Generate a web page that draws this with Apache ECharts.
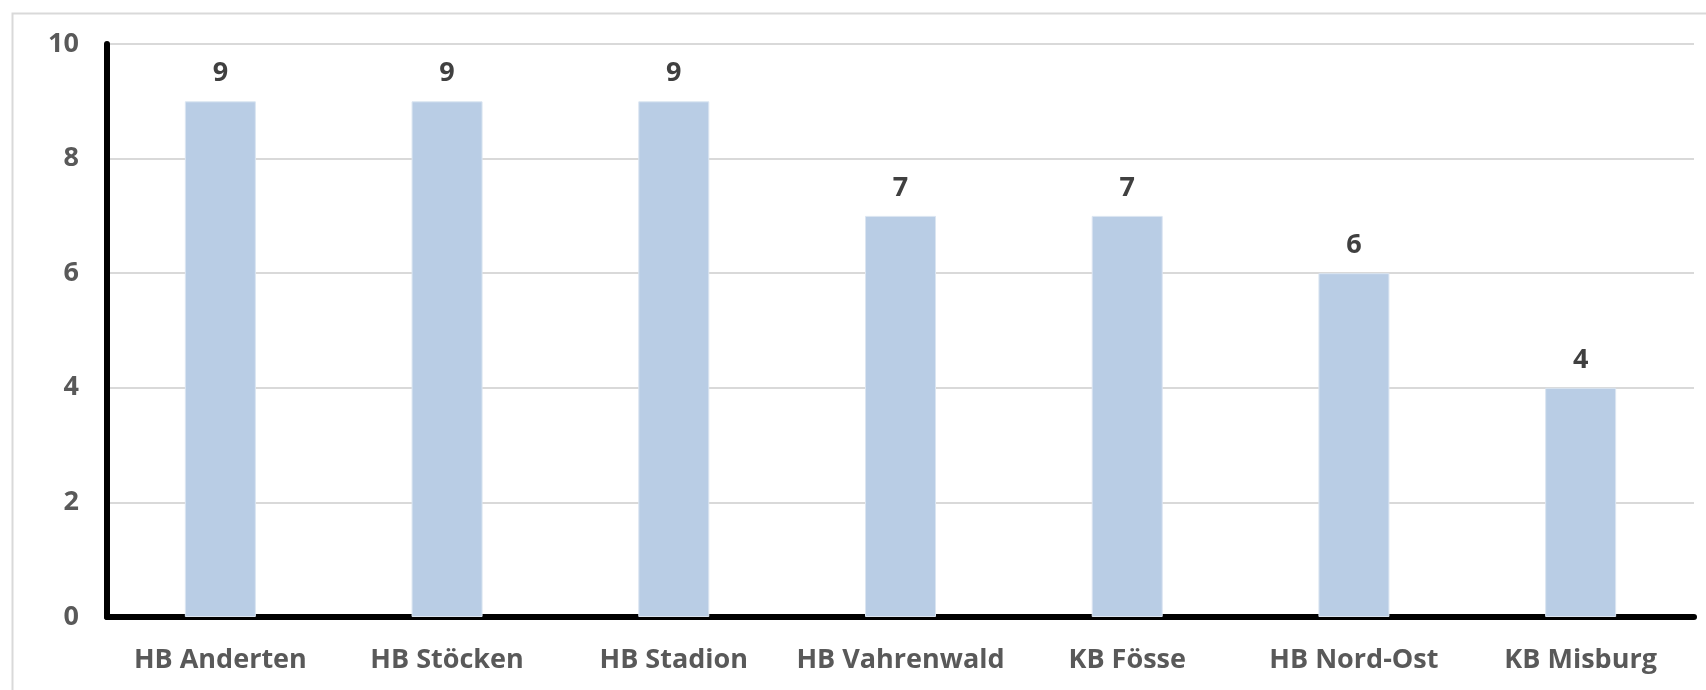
<!DOCTYPE html>
<html>
<head>
<meta charset="utf-8">
<script src="https://cdn.jsdelivr.net/npm/echarts@6/dist/echarts.min.js"></script>
<style>
  html, body { margin: 0; padding: 0; background: #ffffff; }
  #chart { width: 1706px; height: 690px; }
</style>
</head>
<body>
<div id="chart"></div>
<script>
// Stationen und Anzahl
const categories = ['HB Anderten', 'HB Stöcken', 'HB Stadion', 'HB Vahrenwald', 'KB Fösse', 'HB Nord-Ost', 'KB Misburg'];
const values = [9, 9, 9, 7, 7, 6, 4];
const yTicks = [0, 2, 4, 6, 8, 10];

const FONT = '"Open Sans", "Noto Sans", sans-serif';

const chart = echarts.init(document.getElementById('chart'), null, { renderer: 'canvas' });

chart.setOption({
  backgroundColor: '#ffffff',
  animation: false,
  graphic: [{
    // outer chart frame
    type: 'rect',
    left: 10, top: 11,
    shape: { width: 1720, height: 700 },
    style: { fill: 'none', stroke: '#d9d9d9', lineWidth: 2 },
    silent: true
  }],
  grid: { left: 107, right: 12, top: 44, bottom: 73, containLabel: false },
  xAxis: {
    type: 'category',
    data: categories,
    axisLine: { show: true, lineStyle: { color: '#000000', width: 6 } },
    axisTick: { show: false },
    axisLabel: {
      color: '#595959', fontFamily: FONT, fontWeight: 'bold', fontSize: 27,
      margin: 30, interval: 0
    },
    splitLine: { show: false }
  },
  yAxis: {
    type: 'value',
    min: yTicks[0],
    max: yTicks[yTicks.length - 1],
    interval: 2,
    axisLine: { show: true, lineStyle: { color: '#000000', width: 6 } },
    axisTick: { show: false },
    axisLabel: {
      color: '#595959', fontFamily: FONT, fontWeight: 'bold', fontSize: 27,
      margin: 28
    },
    splitLine: { show: true, lineStyle: { color: '#d9d9d9', width: 2 } }
  },
  series: [{
    type: 'bar',
    data: values,
    barWidth: 71,
    itemStyle: { color: '#b9cde5', borderColor: '#dbe5f1', borderWidth: 1 },
    label: {
      show: true, position: 'top', distance: 14,
      color: '#404040', fontFamily: FONT, fontWeight: 'bold', fontSize: 27
    }
  }]
});
</script>
</body>
</html>
